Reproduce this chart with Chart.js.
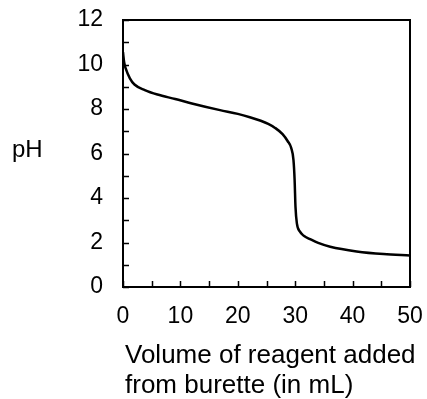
<!DOCTYPE html>
<html>
<head>
<meta charset="utf-8">
<script src="https://cdn.jsdelivr.net/npm/chart.js@4/dist/chart.umd.min.js"></script>
<style>
  body { margin: 0; background: #fff; }
  canvas { display: block; }
</style>
</head>
<body>
<canvas id="titration" width="427" height="399"></canvas>
<script>
// volume of reagent added (mL) and pH
const volumes = [0, 0.2, 0.5, 1.2, 2, 3.8, 6, 9.1, 12, 16.9, 20, 22.1, 24, 25.3, 26.5, 27.8, 28.7, 29.3, 29.7, 29.9, 30.05, 30.3, 30.8, 31.5, 32.6, 34, 36.1, 40.7, 45.4, 50];
const phValues = [10.55, 10.1, 9.8, 9.38, 9.1, 8.85, 8.65, 8.45, 8.25, 7.95, 7.78, 7.63, 7.47, 7.33, 7.15, 6.87, 6.55, 6.25, 5.7, 4.8, 3.6, 2.85, 2.5, 2.3, 2.15, 1.98, 1.81, 1.6, 1.48, 1.42];
const xTitle = ["Volume of reagent added", "from burette (in mL)"];
const yTitle = "pH";

const FONT = "'Liberation Sans', Arial, sans-serif";

const points = volumes.map((v, i) => ({ x: v, y: phValues[i] }));

// inward tick marks, box around the plot and the axis titles
const framePlugin = {
  id: "frame",
  afterDraw(chart) {
    const { ctx, chartArea: a, scales } = chart;
    ctx.save();
    ctx.strokeStyle = "#000";
    ctx.lineWidth = 1.5;
    ctx.beginPath();
    scales.x.ticks.forEach(t => {
      const px = Math.round(scales.x.getPixelForValue(t.value)) + 0.5;
      ctx.moveTo(px, a.bottom);
      ctx.lineTo(px, a.bottom - 6);
    });
    scales.y.ticks.forEach(t => {
      const py = Math.round(scales.y.getPixelForValue(t.value)) + 0.5;
      ctx.moveTo(a.left, py);
      ctx.lineTo(a.left + 6, py);
    });
    ctx.stroke();

    ctx.lineWidth = 2;
    ctx.strokeRect(a.left, a.top, a.right - a.left, a.bottom - a.top);

    ctx.fillStyle = "#000";
    ctx.textBaseline = "alphabetic";
    ctx.textAlign = "left";
    ctx.font = "26px " + FONT;
    ctx.fillText(xTitle[0], 125, 363);
    ctx.fillText(xTitle[1], 125, 393);
    ctx.font = "24px " + FONT;
    ctx.fillText(yTitle, 12, 157);
    ctx.restore();
  }
};

new Chart(document.getElementById("titration"), {
  type: "scatter",
  data: {
    datasets: [{
      data: points,
      showLine: true,
      borderColor: "#000",
      borderWidth: 2.5,
      pointRadius: 0,
      cubicInterpolationMode: "monotone",
      fill: false
    }]
  },
  options: {
    responsive: false,
    animation: false,
    layout: { padding: { left: 0, top: 20, right: 17, bottom: 0 } },
    plugins: {
      legend: { display: false },
      tooltip: { enabled: false }
    },
    scales: {
      x: {
        type: "linear",
        min: 0,
        max: 50,
        grid: { display: false, drawTicks: false },
        border: { display: false },
        ticks: {
          stepSize: 5,
          autoSkip: false,
          maxRotation: 0,
          padding: 16,
          color: "#000",
          font: { family: FONT, size: 23 },
          callback: v => (v % 10 === 0 ? v : "")
        },
        afterFit: s => {
          s.height = 399 - 287;
          s.paddingLeft = 0;
          s.paddingRight = 0;
        }
      },
      y: {
        min: 0,
        max: 12,
        grid: { display: false, drawTicks: false },
        border: { display: false },
        ticks: {
          stepSize: 1,
          autoSkip: false,
          padding: 20,
          color: "#000",
          font: { family: FONT, size: 23 },
          callback: v => (v % 2 === 0 ? v : "")
        },
        afterFit: s => {
          s.width = 123;
          s.paddingTop = 0;
          s.paddingBottom = 0;
        }
      }
    }
  },
  plugins: [framePlugin]
});
</script>
</body>
</html>
